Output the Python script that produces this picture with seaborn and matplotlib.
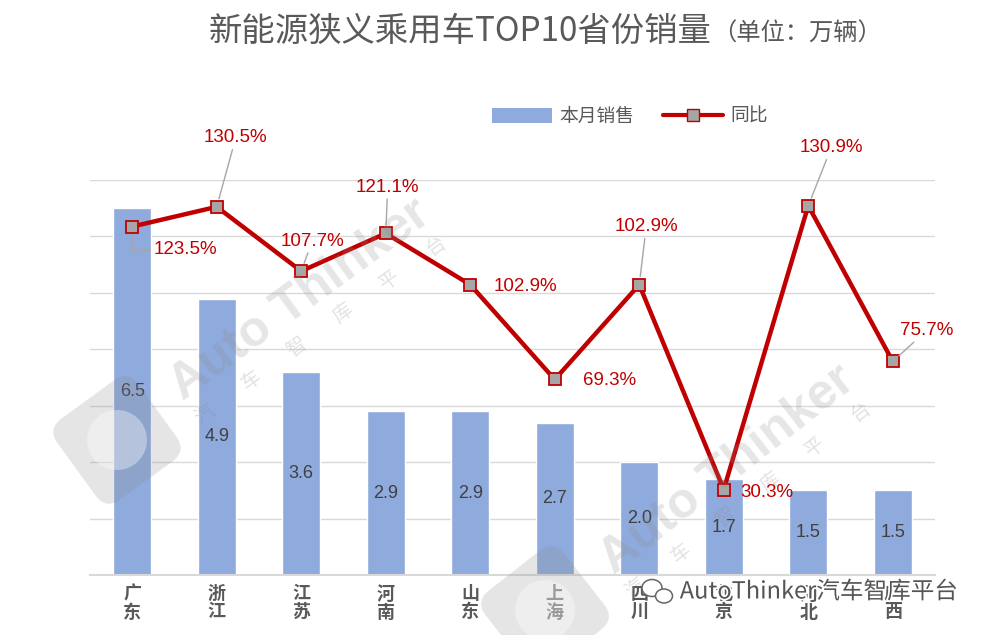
import numpy as np
import matplotlib
matplotlib.use("Agg")
import matplotlib.pyplot as plt
import matplotlib.patheffects as pe
from matplotlib.patches import Patch, FancyBboxPatch, Circle, Ellipse
from matplotlib.lines import Line2D
import matplotlib.transforms as mtransforms
import seaborn as sns

provinces = ["广东", "浙江", "江苏", "河南", "山东", "上海", "四川", "北京", "河北", "广西"]
sales = [6.5, 4.9, 3.6, 2.9, 2.9, 2.7, 2.0, 1.7, 1.5, 1.5]
yoy = [123.5, 130.5, 107.7, 121.1, 102.9, 69.3, 102.9, 30.3, 130.9, 75.7]

# label offsets in pixels (dx, dy) and leader line style
label_offsets = [(53, -23), (19, 69), (11, 30), (2, 46), (55, -2),
                 (55, -1), (7, 58), (43, -3), (23, 58), (34, 31)]
leaders = ["elbow", "line", "line", "line", None, None, "line", None, "line", "line"]

BAR_COLOR = "#8FAADC"
LINE_COLOR = "#C00000"
GRID_COLOR = "#D9D9D9"
TEXT_GRAY = "#595959"
W, H = 993, 635

sns.set_theme(style="white")
plt.rcParams["font.family"] = ["Liberation Sans", "Noto Sans CJK SC", "DejaVu Sans"]

fig = plt.figure(figsize=(9.93, 6.35), dpi=100)
ax = fig.add_axes([0.0906, 0.0945, 0.851, 0.622])

sns.barplot(x=provinces, y=sales, color=BAR_COLOR, saturation=1, width=0.45, ax=ax, zorder=2)
ax2 = ax.twinx()

ax.set_ylim(0, 7)
ax.set_yticks(range(0, 8))
ax.set_xlim(-0.5, 9.5)
ax.yaxis.grid(True, color=GRID_COLOR, lw=1)
ax.set_axisbelow(True)
ax.tick_params(axis="y", left=False, right=False, labelleft=False)
ax.tick_params(axis="x", bottom=False, pad=2)
ax.set_xticks(range(len(provinces)))
ax.set_xticklabels(["\n".join(p) for p in provinces], fontsize=13, fontweight="bold",
                   color=TEXT_GRAY, linespacing=1.05)
ax.set_xlabel("")
ax.set_ylabel("")
for s in ["top", "left", "right"]:
    ax.spines[s].set_visible(False)
ax.spines["bottom"].set_color(GRID_COLOR)
ax.spines["bottom"].set_linewidth(1.5)

for i, v in enumerate(sales):
    ax.text(i, v / 2, f"{v:.1f}", ha="center", va="center", fontsize=13, color="#404040")

sns.lineplot(x=np.arange(len(yoy)), y=yoy, ax=ax2, color=LINE_COLOR, lw=3.2,
             marker="s", markersize=9, markerfacecolor="#A6A6A6",
             markeredgecolor=LINE_COLOR, markeredgewidth=1.3, zorder=4)
ax2.set_ylim(0, 140)
ax2.set_xlim(-0.5, 9.5)
ax2.set_yticks([])
ax2.set_ylabel("")
ax2.tick_params(left=False, right=False)
for s in ["top", "left", "right", "bottom"]:
    ax2.spines[s].set_visible(False)

for i, v in enumerate(yoy):
    dx, dy = label_offsets[i]
    props = None
    if leaders[i] == "line":
        props = dict(arrowstyle="-", color="#A6A6A6", lw=1, shrinkA=0, shrinkB=6)
    elif leaders[i] == "elbow":
        props = dict(arrowstyle="-", color="#A6A6A6", lw=1, shrinkA=0, shrinkB=6,
                     connectionstyle="angle,angleA=0,angleB=90,rad=0")
    ax2.annotate(f"{v:.1f}%", xy=(i, v), xytext=(dx, dy), textcoords="offset pixels",
                 ha="center", va="center", fontsize=13.5, color=LINE_COLOR,
                 arrowprops=props, zorder=5)

# legend
handles = [Patch(facecolor=BAR_COLOR, edgecolor="none"),
           Line2D([], [], color=LINE_COLOR, lw=3, marker="s", markersize=9,
                  markerfacecolor="#A6A6A6", markeredgecolor=LINE_COLOR)]
fig.legend(handles, ["本月销售", "同比"], loc="center", bbox_to_anchor=(630 / W, 1 - 117 / H),
           ncol=2, frameon=False, fontsize=13.5, labelcolor=TEXT_GRAY,
           handlelength=3.2, handleheight=0.9, columnspacing=1.5, handletextpad=0.4)

# title
fig.text(712 / W, 1 - 41 / H, "新能源狭义乘用车TOP10省份销量", ha="right", va="baseline",
         fontsize=24, color=TEXT_GRAY, family=["Noto Sans CJK SC"])
fig.text(712 / W, 1 - 41 / H, "（单位：万辆）", ha="left", va="baseline",
         fontsize=17.5, color=TEXT_GRAY, family=["Noto Sans CJK SC"])

# watermarks
wm_color = "#8C8C8C"
for (cx, cy, ang) in [(300, 300, 36), (728, 470, 38)]:
    fig.text(cx / W, 1 - cy / H, "Auto Thinker", rotation=ang, ha="center", va="center",
             fontsize=36, fontweight="bold", color=wm_color, alpha=0.22, zorder=10)
    rad = np.deg2rad(ang)
    ux, uy = np.cos(rad), np.sin(rad)
    ccx, ccy = cx + 20, cy + 30
    for k, ch in enumerate("汽车智库平台"):
        t = (k - 2.5) * 57
        fig.text((ccx + t * ux) / W, 1 - (ccy - t * uy) / H, ch, rotation=ang,
                 ha="center", va="center", fontsize=14, color=wm_color, alpha=0.25, zorder=10,
                 family=["Noto Sans CJK SC"])
    # logo
    lx, ly = cx - 183, cy + 140
    tr = mtransforms.Affine2D().rotate_deg_around(lx, H - ly, ang) + mtransforms.Affine2D().scale(1.0 / W, 1.0 / H) + fig.transFigure
    box = FancyBboxPatch((lx - 50, H - ly - 50), 100, 100, boxstyle="round,pad=0,rounding_size=18",
                         transform=tr, facecolor=wm_color, edgecolor="none", alpha=0.22, zorder=10)
    fig.patches.append(box)
    circ = Circle((lx, H - ly), 30, transform=tr, facecolor="white", edgecolor="none",
                  alpha=0.35, zorder=10)
    fig.patches.append(circ)

# WeChat account mark
fig.text(958 / W, 1 - 592 / H, "AutoThinker汽车智库平台", ha="right", va="center",
         fontsize=17, color="#555555", family=["Noto Sans CJK SC"], zorder=11,
         path_effects=[pe.withStroke(linewidth=2.5, foreground="white")])
for (ex, ey, ew, eh) in [(652, 588, 20, 17), (664, 596, 17, 14)]:
    fig.patches.append(Ellipse((ex / W, 1 - ey / H), ew / W, eh / H, transform=fig.transFigure,
                               facecolor="white", edgecolor="#666666", lw=1.1, zorder=11))

fig.savefig("out.png", dpi=100)
